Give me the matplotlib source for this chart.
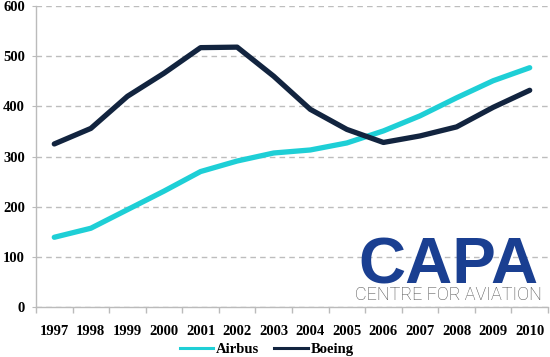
import matplotlib
matplotlib.use("Agg")
import matplotlib.pyplot as plt
from matplotlib.lines import Line2D
from matplotlib.ticker import FixedLocator, NullFormatter

years = ["1997", "1998", "1999", "2000", "2001", "2002", "2003",
         "2004", "2005", "2006", "2007", "2008", "2009", "2010"]
airbus = [139, 157, 194, 231, 270, 291, 307, 313, 327, 351, 381, 417, 451, 477]
boeing = [325, 356, 420, 466, 517, 518, 460, 394, 354, 328, 341, 359, 398, 432]
y_ticks = [0, 100, 200, 300, 400, 500, 600]

airbus_color = "#1ecfd6"
boeing_color = "#12243f"
serif = ["Liberation Serif", "DejaVu Serif"]
fs = 10.5

fig = plt.figure(figsize=(5.5, 3.57), dpi=100)
ax = fig.add_axes([36/550, 1-307/357, 512/550, 301/357])

x = list(range(len(years)))
ax.plot(x, airbus, color=airbus_color, lw=3.8, solid_capstyle="round", solid_joinstyle="round", label="Airbus")
ax.plot(x, boeing, color=boeing_color, lw=3.8, solid_capstyle="round", solid_joinstyle="round", label="Boeing")

ax.set_xlim(-0.5, len(years) - 0.5)
ax.set_ylim(0, 600)
ax.set_yticks(y_ticks)
ax.set_yticklabels([str(v) for v in y_ticks], fontfamily=serif, fontweight="bold", fontsize=fs)
ax.set_xticks(x)
ax.set_xticklabels(years, fontfamily=serif, fontweight="bold", fontsize=fs)
ax.xaxis.set_minor_locator(FixedLocator([i - 0.5 for i in range(len(years) + 1)]))
ax.xaxis.set_minor_formatter(NullFormatter())
ax.tick_params(axis="x", which="major", length=0, pad=13)
ax.tick_params(axis="x", which="minor", length=4, color="#bbbbbb", width=1)
ax.tick_params(axis="y", length=3, color="#bbbbbb", pad=5)

ax.grid(axis="y", color="#bdbdbd", linestyle=(0, (4, 3)), lw=1)
ax.set_axisbelow(True)
for s in ["top", "right"]:
    ax.spines[s].set_visible(False)
for s in ["left", "bottom"]:
    ax.spines[s].set_color("#bbbbbb")
    ax.spines[s].set_linewidth(1)

handles = [Line2D([], [], color=airbus_color, lw=2.2), Line2D([], [], color=boeing_color, lw=2.2)]
fig.legend(handles, ["Airbus", "Boeing"], loc="center", bbox_to_anchor=(0.485, 0.022), ncol=2,
           frameon=False, prop={"family": serif, "weight": "bold", "size": fs},
           handlelength=2.3, handletextpad=0.2, columnspacing=1.0)

fig.text(448/550, 1-283/357, "CAPA", ha="center", va="baseline", color="#1a3f91",
         fontsize=47, fontweight="bold", fontfamily=["Liberation Sans", "DejaVu Sans"])
fig.text(448/550, 1-300/357, "CENTRE FOR AVIATION", ha="center", va="baseline", color="#4a4a4a",
         fontsize=13, fontfamily=["Roboto", "DejaVu Sans"], fontweight="light")

fig.savefig("out.png", dpi=100)
